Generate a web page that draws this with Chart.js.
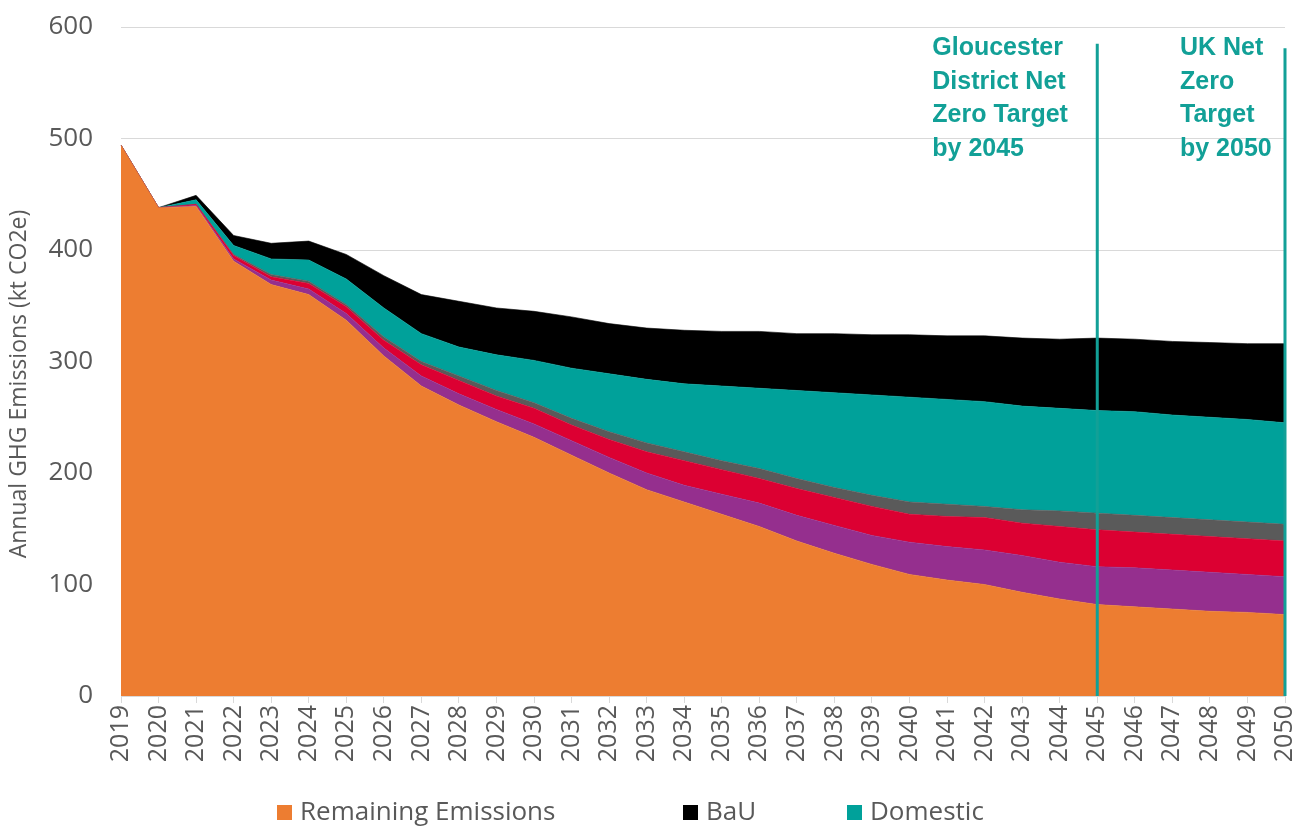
<!DOCTYPE html>
<html>
<head>
<meta charset="utf-8">
<script src="https://cdn.jsdelivr.net/npm/chart.js@4.4.1/dist/chart.umd.min.js"></script>
<style>
  html, body { margin: 0; padding: 0; background: #ffffff; }
  #wrap { width: 1304px; height: 828px; }
</style>
</head>
<body>
<div id="wrap"><canvas id="c" width="1304" height="828"></canvas></div>
<script>
const years = ['2019','2020','2021','2022','2023','2024','2025','2026','2027','2028','2029','2030','2031','2032','2033','2034','2035','2036','2037','2038','2039','2040','2041','2042','2043','2044','2045','2046','2047','2048','2049','2050'];

const remainingEmissions = [494,438,439,390,369,360,337,305,278,261,246,232,216,200,185,174,163,152,139,128,118,109,104,100,93,87,82,80,78,76,75,73];
const sectorPurple       = [0,0,1,2,4,5,6,7,9,10,11,12,13,14,15,15,18,21,23,25,26,29,30,31,33,33,34,35,35,35,34,34];
const sectorRed          = [0,0,1,3,3,5,6,7,10,12,12,14,14,16,19,22,22,22,24,25,26,25,27,29,29,32,33,32,32,32,32,32];
const sectorGrey         = [0,0,0,1,2,2,2,3,3,4,5,5,6,7,8,8,8,9,9,9,10,11,11,10,12,14,15,15,15,15,15,15];
const domestic           = [0,0,4,8,14,19,23,26,25,26,32,38,45,52,57,61,67,72,79,85,90,94,94,94,93,92,92,93,92,92,92,91];
const bau                = [0,0,4,9,14,17,22,29,35,41,42,44,46,45,46,48,49,51,51,53,54,56,57,59,61,62,65,65,66,67,68,71];

const yTicks = [0,100,200,300,400,500,600];
const targets = [
  { year: '2045', top: 585, lines: ['Gloucester', 'District Net', 'Zero Target', 'by 2045'], textOffset: -165 },
  { year: '2050', top: 581, lines: ['UK Net', 'Zero', 'Target', 'by 2050'], textOffset: -105 }
];
const legendShown = ['Remaining Emissions', 'BaU', 'Domestic'];

const TEXT_GREY = '#595959';
const TEAL_LINE = '#12A097';

function ds(label, data, color, fill) {
  return {
    label, data,
    backgroundColor: color,
    borderColor: color,
    borderWidth: 0.6,
    pointRadius: 0,
    pointHoverRadius: 0,
    tension: 0,
    fill
  };
}

const targetPlugin = {
  id: 'targets',
  afterDatasetsDraw(chart) {
    const {ctx, scales: {x, y}} = chart;
    ctx.save();
    targets.forEach(t => {
      const idx = years.indexOf(t.year);
      const px = x.getPixelForValue(idx);
      ctx.strokeStyle = TEAL_LINE;
      ctx.lineWidth = 3;
      ctx.beginPath();
      ctx.moveTo(px, y.getPixelForValue(t.top));
      ctx.lineTo(px, y.getPixelForValue(0));
      ctx.stroke();
      ctx.fillStyle = TEAL_LINE;
      ctx.font = 'bold 25px "Liberation Sans", Arial, sans-serif';
      ctx.textAlign = 'left';
      ctx.textBaseline = 'alphabetic';
      t.lines.forEach((ln, i) => {
        ctx.fillText(ln, px + t.textOffset, 55 + i * 33.7);
      });
    });
    ctx.restore();
  },
  afterDraw(chart) {
    const {ctx} = chart;
    ctx.save();
    // y-axis title
    ctx.translate(19, 384);
    ctx.rotate(-Math.PI / 2);
    ctx.fillStyle = TEXT_GREY;
    ctx.font = '23px "Open Sans", sans-serif';
    ctx.textAlign = 'center';
    ctx.textBaseline = 'middle';
    ctx.fillText('Annual GHG Emissions (kt CO2e)', 0, 0);
    ctx.restore();

    // legend
    ctx.save();
    const xs = [277, 683, 847];
    ctx.font = '26px "Open Sans", sans-serif';
    ctx.textBaseline = 'middle';
    ctx.textAlign = 'left';
    legendShown.forEach((name, i) => {
      const d = chart.data.datasets.find(s => s.label === name);
      ctx.fillStyle = d.backgroundColor;
      ctx.fillRect(xs[i], 805, 15, 15);
      ctx.fillStyle = TEXT_GREY;
      ctx.fillText(name, xs[i] + 23, 813);
    });
    ctx.restore();
  }
};

new Chart(document.getElementById('c'), {
  type: 'line',
  data: {
    labels: years,
    datasets: [
      ds('Remaining Emissions', remainingEmissions, '#ED7D31', 'origin'),
      ds('Sector 2', sectorPurple, '#952F8E', '-1'),
      ds('Sector 3', sectorRed, '#DC0032', '-1'),
      ds('Sector 4', sectorGrey, '#5A5A5A', '-1'),
      ds('Domestic', domestic, '#00A19A', '-1'),
      ds('BaU', bau, '#000000', '-1')
    ]
  },
  options: {
    responsive: false,
    animation: false,
    devicePixelRatio: 1,
    layout: { padding: { top: 27, right: 19, left: 0, bottom: 0 } },
    plugins: {
      legend: { display: false },
      tooltip: { enabled: false },
      title: { display: false }
    },
    scales: {
      x: {
        type: 'category',
        offset: false,
        grid: { drawOnChartArea: false, drawTicks: true, tickLength: 7, color: '#d9d9d9' },
        border: { display: true, color: '#d9d9d9' },
        ticks: {
          autoSkip: false, maxRotation: 90, minRotation: 90,
          color: TEXT_GREY, padding: 2,
          font: { family: '"Open Sans", sans-serif', size: 25 }
        },
        afterFit(scale) {
          scale.height = 132;
          scale.paddingLeft = 0;
          scale.paddingRight = 0;
        }
      },
      y: {
        stacked: true,
        min: 0, max: 600,
        afterBuildTicks(scale) { scale.ticks = yTicks.map(v => ({ value: v })); },
        grid: { color: '#d9d9d9', drawTicks: false, lineWidth: 1 },
        border: { display: false },
        ticks: {
          color: TEXT_GREY, padding: 28,
          font: { family: '"Open Sans", sans-serif', size: 26 }
        },
        afterFit(scale) {
          scale.width = 121;
          scale.paddingTop = 0;
          scale.paddingBottom = 0;
        }
      }
    }
  },
  plugins: [targetPlugin]
});
</script>
</body>
</html>
